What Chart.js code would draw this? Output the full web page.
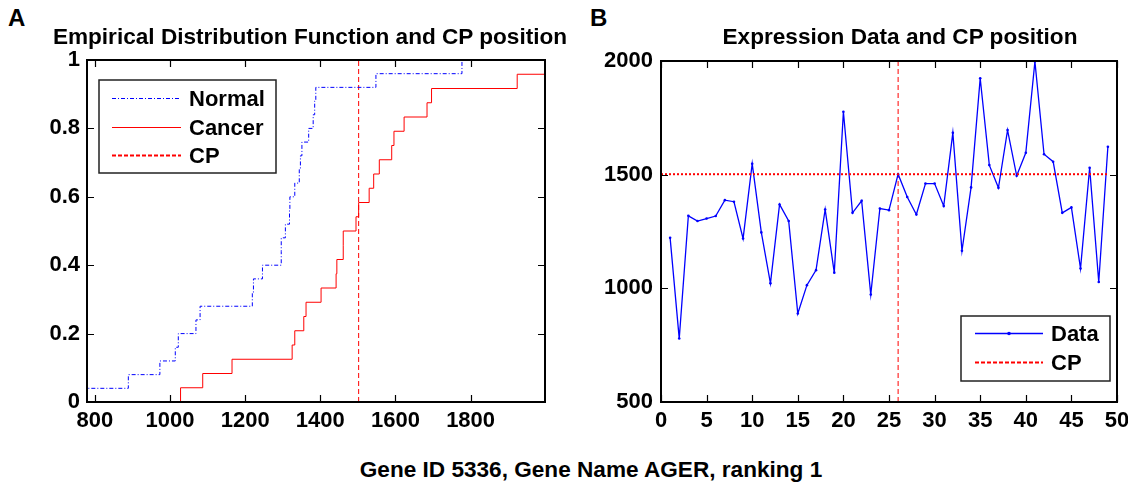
<!DOCTYPE html>
<html>
<head>
<meta charset="utf-8">
<script src="https://cdn.jsdelivr.net/npm/chart.js@4.4.1/dist/chart.umd.min.js"></script>
<style>
  body { margin: 0; background: #fff; width: 1128px; height: 484px; position: relative; overflow: hidden;
    font-family: 'Liberation Sans', Arial, sans-serif; font-weight: bold; color: #000; }
  canvas { position: absolute; top: 0; }
  #cvA { left: 0; }
  #cvB { left: 564px; }
  .tag { position: absolute; top: 4px; font-size: 24px; line-height: 28px; }
  .title { position: absolute; top: 24px; transform: translateX(-50%); white-space: nowrap;
    font-size: 22.6px; line-height: 26px; }
  #caption { position: absolute; top: 457px; left: 591px; transform: translateX(-50%); white-space: nowrap;
    font-size: 22.6px; line-height: 26px; }
</style>
</head>
<body>
<div class="tag" style="left:8px">A</div>
<div class="tag" style="left:590px">B</div>
<canvas id="cvA" width="564" height="440"></canvas>
<canvas id="cvB" width="564" height="440"></canvas>
<div class="title" style="left:310px">Empirical Distribution Function and CP position</div>
<div class="title" style="left:900px">Expression Data and CP position</div>
<div id="caption">Gene ID 5336, Gene Name AGER, ranking 1</div>
<script>
// expression values; first 25 samples are Normal, rest Cancer
const normalExpr = [1222, 779, 1319, 1296, 1307, 1318, 1388, 1381, 1219, 1548, 1246, 1022, 1369, 1296, 889,
  1014, 1080, 1347, 1069, 1777, 1332, 1385, 973, 1351, 1344]
const cancerExpr = [1502, 1402, 1325, 1461, 1461, 1362, 1684, 1165, 1444, 1924, 1542, 1442, 1696, 1495, 1596,
  1998, 1590, 1557, 1332, 1356, 1087, 1530, 1028, 1623]
const cpIndex = 26

const ecdfXTicks = [800, 1000, 1200, 1400, 1600, 1800]
const ecdfYTicks = [0, 0.2, 0.4, 0.6, 0.8, 1]
const exprXTicks = [0, 5, 10, 15, 20, 25, 30, 35, 40, 45, 50]
const exprYTicks = [500, 1000, 1500, 2000]

const expression = normalExpr.concat(cancerExpr)
const cpValue = expression[cpIndex - 1]
const FONT = { family: "'Liberation Sans', Arial, sans-serif", size: 22, weight: 'bold' }

function ecdf (values) {
  const sorted = values.slice().sort((a, b) => a - b)
  const pts = [{ x: sorted[0], y: 0 }]
  sorted.forEach((v, i) => pts.push({ x: v, y: (i + 1) / sorted.length }))
  return pts
}

function fixedTicks (list) {
  return function (scale) { scale.ticks = list.map(v => ({ value: v })) }
}

// matlab style box with inward ticks on all four sides
const matlabBox = {
  id: 'matlabBox',
  afterDatasetsDraw (chart) {
    const { ctx, chartArea: a, scales } = chart
    ctx.save()
    ctx.strokeStyle = '#000'
    ctx.lineWidth = 1.2
    ctx.beginPath()
    scales.x.ticks.forEach(t => {
      const px = Math.round(scales.x.getPixelForValue(t.value)) + 0.5
      ctx.moveTo(px, a.bottom); ctx.lineTo(px, a.bottom - 7)
      ctx.moveTo(px, a.top); ctx.lineTo(px, a.top + 7)
    })
    scales.y.ticks.forEach(t => {
      const py = Math.round(scales.y.getPixelForValue(t.value)) + 0.5
      ctx.moveTo(a.left, py); ctx.lineTo(a.left + 7, py)
      ctx.moveTo(a.right, py); ctx.lineTo(a.right - 7, py)
    })
    ctx.stroke()
    ctx.lineWidth = 2
    ctx.strokeRect(a.left, a.top, a.width, a.height)
    ctx.restore()
  }
}

const boxLegend = {
  id: 'boxLegend',
  afterDraw (chart, args, opts) {
    const { ctx, chartArea: a } = chart
    const x = a.left + opts.x
    const y = a.top + opts.y
    ctx.save()
    ctx.fillStyle = '#fff'
    ctx.fillRect(x, y, opts.w, opts.h)
    ctx.strokeStyle = '#222'
    ctx.lineWidth = 1.5
    ctx.strokeRect(x, y, opts.w, opts.h)
    chart.data.datasets.filter(d => d.label).forEach((d, i) => {
      const cy = Math.round(y + opts.first + i * opts.step) + 0.5
      ctx.beginPath()
      ctx.setLineDash(d.legendDash || d.borderDash || [])
      ctx.lineWidth = d.legendWidth || d.borderWidth
      ctx.strokeStyle = d.borderColor
      ctx.moveTo(x + opts.lineX, cy)
      ctx.lineTo(x + opts.lineX + opts.lineW, cy)
      ctx.stroke()
      ctx.setLineDash([])
      if (d.pointRadius) {
        ctx.beginPath()
        ctx.fillStyle = d.borderColor
        ctx.arc(x + opts.lineX + opts.lineW / 2, cy, d.pointRadius + 0.5, 0, Math.PI * 2)
        ctx.fill()
      }
      ctx.fillStyle = '#000'
      ctx.font = 'bold 22px "Liberation Sans", Arial, sans-serif'
      ctx.textBaseline = 'middle'
      ctx.fillText(d.label, x + opts.textX, cy + 1)
    })
    ctx.restore()
  }
}

function axis (min, max, list, size, pad, isX) {
  return {
    type: 'linear',
    min: min,
    max: max,
    afterBuildTicks: fixedTicks(list),
    afterFit: function (s) {
      if (isX) { s.height = size; s.paddingLeft = 0; s.paddingRight = 0 } else { s.width = size; s.paddingTop = 0; s.paddingBottom = 0 }
    },
    grid: { display: false, drawTicks: false },
    border: { display: false },
    ticks: { color: '#000', font: FONT, padding: pad, autoSkip: false, maxRotation: 0, callback: v => String(v) }
  }
}

const allValues = expression

new Chart(document.getElementById('cvA'), {
  type: 'line',
  data: {
    datasets: [{
      label: 'Normal',
      data: ecdf(normalExpr),
      stepped: 'before',
      borderColor: '#0000ff',
      borderWidth: 1,
      borderDash: [4, 2, 1, 2],
      pointRadius: 0
    }, {
      label: 'Cancer',
      data: ecdf(cancerExpr),
      stepped: 'before',
      borderColor: '#ff0000',
      borderWidth: 1,
      pointRadius: 0
    }, {
      label: 'CP',
      data: [{ x: cpValue, y: 0 }, { x: cpValue, y: 1 }],
      borderColor: '#ff0000',
      borderWidth: 1,
      borderDash: [5, 3],
      legendWidth: 2.2,
      legendDash: [4, 2],
      pointRadius: 0
    }]
  },
  options: {
    responsive: false,
    animation: false,
    devicePixelRatio: 1,
    layout: { padding: { left: 0, right: 19, top: 60, bottom: 0 } },
    scales: {
      x: axis(Math.min(...allValues), Math.max(...allValues), ecdfXTicks, 38, 6, true),
      y: axis(0, 1, ecdfYTicks, 87, 7, false)
    },
    plugins: {
      legend: { display: false },
      tooltip: { enabled: false },
      boxLegend: { x: 12, y: 20, w: 177, h: 93, first: 18, step: 28.5, lineX: 13, lineW: 69, textX: 90 }
    }
  },
  plugins: [matlabBox, boxLegend]
})

new Chart(document.getElementById('cvB'), {
  type: 'line',
  data: {
    datasets: [{
      label: 'Data',
      data: expression.map((v, i) => ({ x: i + 1, y: v })),
      borderColor: '#0000ff',
      borderWidth: 1.3,
      pointRadius: 1.3,
      pointBorderWidth: 0,
      pointBackgroundColor: '#0000ff',
      order: 2
    }, {
      label: 'CP',
      data: [{ x: 0, y: cpValue }, { x: expression.length, y: cpValue }],
      borderColor: '#ff0000',
      borderWidth: 2,
      borderDash: [2, 2],
      legendDash: [4, 2],
      pointRadius: 0,
      order: 1
    }, {
      data: [{ x: cpIndex, y: 500 }, { x: cpIndex, y: 2000 }],
      borderColor: '#ff0000',
      borderWidth: 1,
      borderDash: [5, 3],
      pointRadius: 0,
      order: 3
    }]
  },
  options: {
    responsive: false,
    animation: false,
    devicePixelRatio: 1,
    layout: { padding: { left: 0, right: 11, top: 61, bottom: 0 } },
    scales: {
      x: axis(0, 50, exprXTicks, 38, 6, true),
      y: axis(500, 2000, exprYTicks, 97, 8, false)
    },
    plugins: {
      legend: { display: false },
      tooltip: { enabled: false },
      boxLegend: { x: 300, y: 255, w: 149, h: 65, first: 17, step: 29, lineX: 14, lineW: 68, textX: 90 }
    }
  },
  plugins: [matlabBox, boxLegend]
})
</script>
</body>
</html>
